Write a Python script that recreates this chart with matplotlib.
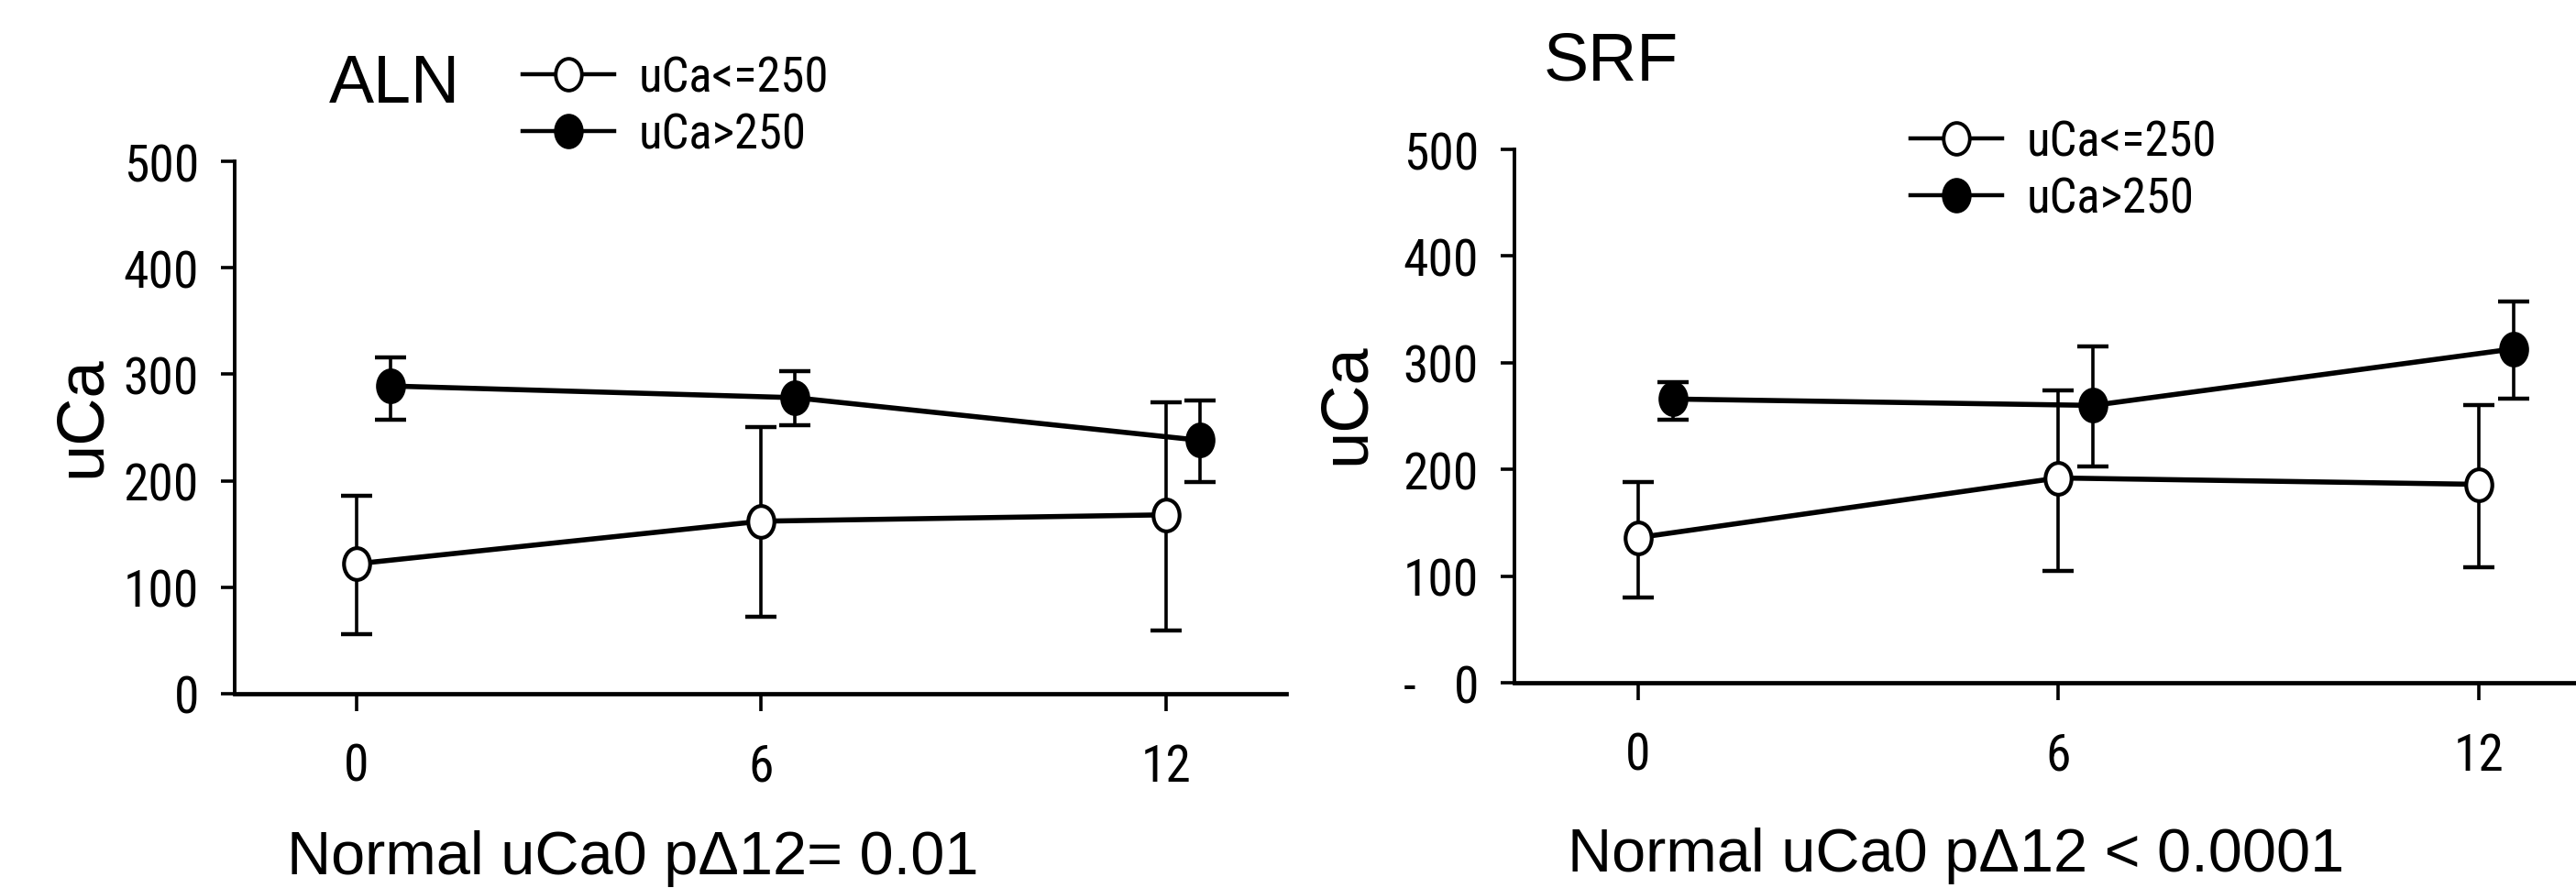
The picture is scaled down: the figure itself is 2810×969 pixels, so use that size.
import matplotlib
matplotlib.use("Agg")
import matplotlib.pyplot as plt
from matplotlib import font_manager
from matplotlib.path import Path
from matplotlib.lines import Line2D

plt.rcParams['font.family'] = ['Liberation Sans', 'DejaVu Sans']

# tick labels and legend in the original use a narrow face
installed = {f.name: f for f in font_manager.fontManager.ttflist}
narrow = dict(family=['Liberation Sans', 'DejaVu Sans'])
for name in ['Liberation Sans Narrow', 'Roboto Condensed', 'Open Sans Condensed', 'Noto Sans Condensed']:
    if name in installed:
        narrow = dict(family=[name, 'DejaVu Sans'])
        break
else:
    cond = [f for f in font_manager.fontManager.ttflist
            if f.name in ('DejaVu Sans', 'Liberation Sans', 'Noto Sans') and 'ondensed' in str(f.stretch) + f.fname]
    if cond:
        narrow = dict(family=[cond[0].name], stretch='condensed')
narrow_fp = font_manager.FontProperties(size=40, **narrow)

# months
months_low = [0, 6, 12]
months_high = [0.5, 6.5, 12.5]   # shifted a bit so the bars don't overlap

# ALN
aln_low = [122, 162, 168]
aln_low_top = [186, 250, 274]
aln_low_bot = [56, 72, 59]
aln_high = [289, 278, 238]
aln_high_top = [316, 303, 275]
aln_high_bot = [257, 252, 199]

# SRF
srf_low = [136, 192, 186]
srf_low_top = [188, 274, 260]
srf_low_bot = [80, 105, 108]
srf_high = [266, 260, 313]
srf_high_top = [282, 315, 357]
srf_high_bot = [247, 203, 266]

yticks = [0, 100, 200, 300, 400, 500]
xticks = [0, 6, 12]

# taller-than-wide marker like the original
circ = Path.unit_circle()
ell = Path(circ.vertices * [0.82, 1.0], circ.codes)

fig = plt.figure(figsize=(28.1, 9.7), dpi=100)
ax1 = fig.add_axes([0.0911, 0.2186, 0.4082, 0.5989])
ax2 = fig.add_axes([0.5879, 0.2309, 0.4121, 0.6000])


def draw(ax, low, lt, lb, high, ht, hb, xlim):
    for x, m, t, b in [(months_low, low, lt, lb), (months_high, high, ht, hb)]:
        err = [[mi - bi for mi, bi in zip(m, b)], [ti - mi for ti, mi in zip(t, m)]]
        ax.errorbar(x, m, yerr=err, fmt='none', ecolor='black', elinewidth=2.6,
                    capsize=12, capthick=3.2, zorder=2)
    ax.plot(months_low, low, color='black', lw=4, marker=ell, ms=25,
            mfc='white', mec='black', mew=3, zorder=3)
    ax.plot(months_high, high, color='black', lw=4, marker=ell, ms=25,
            mfc='black', mec='black', mew=3, zorder=3)
    ax.set_xlim(*xlim)
    ax.set_ylim(0, 500)
    ax.set_xticks(xticks)
    ax.set_yticks(yticks)
    ax.spines['top'].set_visible(False)
    ax.spines['right'].set_visible(False)
    ax.spines['left'].set_linewidth(2.8)
    ax.spines['bottom'].set_linewidth(3.4)
    ax.tick_params(axis='both', width=2.6, direction='out')
    ax.tick_params(axis='x', pad=24, length=14)
    ax.tick_params(axis='y', pad=17, length=11)
    for lab in ax.get_yticklabels() + ax.get_xticklabels():
        lab.set_fontproperties(narrow_fp)


draw(ax1, aln_low, aln_low_top, aln_low_bot, aln_high, aln_high_top, aln_high_bot, (-1.806, 13.78))
draw(ax2, srf_low, srf_low_top, srf_low_bot, srf_high, srf_high_top, srf_high_bot, (-1.76, 13.39))

# titles, labels
fig.text(430 / 2810, 1 - 93 / 970, 'ALN', fontsize=53, ha='center', va='center')
fig.text(1757 / 2810, 1 - 68 / 970, 'SRF', fontsize=53, ha='center', va='center')
fig.text(90 / 2810, 1 - 455 / 970, 'uCa', fontsize=52, rotation=90, ha='center', va='center')
fig.text(1469 / 2810, 1 - 441 / 970, 'uCa', fontsize=52, rotation=90, ha='center', va='center')
fig.text(690 / 2810, 1 - 937 / 970, 'Normal uCa0 p\u039412= 0.01', fontsize=48, ha='center', va='center')
fig.text(2134 / 2810, 1 - 934 / 970, 'Normal uCa0 p\u039412 < 0.0001', fontsize=48, ha='center', va='center')
fig.text(1538 / 2810, 1 - 751 / 970, '-', fontproperties=narrow_fp, ha='center', va='center')

# legends
def legend_handles():
    h1 = Line2D([], [], color='black', lw=3.2, marker=ell, ms=25, mfc='white', mec='black', mew=2.8)
    h2 = Line2D([], [], color='black', lw=3.2, marker=ell, ms=25, mfc='black', mec='black', mew=2.8)
    return [h1, h2]

labels = ['uCa<=250', 'uCa>250']
leg_fp = font_manager.FontProperties(size=38, **narrow)
fig.legend(legend_handles(), labels, loc='center left', bbox_to_anchor=(570 / 2810, 1 - 117 / 970),
           frameon=False, prop=leg_fp, handlelength=1.9, handletextpad=0.5, labelspacing=0.2,
           borderpad=0, borderaxespad=0)
fig.legend(legend_handles(), labels, loc='center left', bbox_to_anchor=(2084 / 2810, 1 - 187 / 970),
           frameon=False, prop=leg_fp, handlelength=1.9, handletextpad=0.5, labelspacing=0.2,
           borderpad=0, borderaxespad=0)

fig.savefig('out.png', dpi=100)
